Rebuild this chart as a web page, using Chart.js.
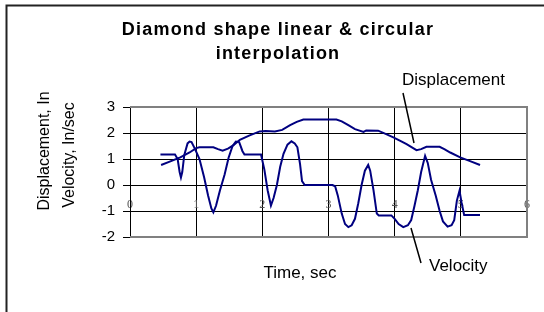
<!DOCTYPE html>
<html>
<head>
<meta charset="utf-8">
<script src="https://cdn.jsdelivr.net/npm/chart.js@4.4.1/dist/chart.umd.min.js"></script>
<style>
    body { margin: 0; background: #fff; }
</style>
</head>
<body>
<canvas id="lineChart" width="544" height="312"></canvas>
<script>
var titleLines = ["Diamond shape linear & circular", "interpolation"];
var xTitle = "Time, sec";
var yTitleLines = ["Displacement, In", "Velocity, In/sec"];
var seriesNames = ["Displacement", "Velocity"];

var xTicks = [0, 1, 2, 3, 4, 5, 6];
var yTicks = [-2, -1, 0, 1, 2, 3];

var dispTime = [0.47, 0.6, 0.76, 0.9, 1.0, 1.05, 1.26, 1.33, 1.4, 1.48, 1.56, 1.66, 1.8, 1.96, 2.05, 2.19,
    2.3, 2.42, 2.52, 2.62, 3.12, 3.2, 3.3, 3.4, 3.53, 3.57, 3.75, 3.88, 3.98, 4.1, 4.18, 4.33, 4.4,
    4.48, 4.68, 4.75, 4.84, 4.99, 5.14, 5.29];
var dispValue = [0.77, 0.9, 1.06, 1.25, 1.42, 1.45, 1.45, 1.38, 1.32, 1.4, 1.52, 1.74, 1.9, 2.06, 2.08, 2.06,
    2.12, 2.3, 2.43, 2.52, 2.52, 2.45, 2.3, 2.15, 2.04, 2.1, 2.09, 1.95, 1.83, 1.68, 1.57, 1.34, 1.38,
    1.47, 1.47, 1.38, 1.25, 1.06, 0.92, 0.77];

var velTime = [0.46, 0.68, 0.72, 0.75, 0.77, 0.79, 0.82, 0.87, 0.9, 0.93, 0.98, 1.05, 1.12, 1.18, 1.23, 1.26,
    1.3, 1.36, 1.43, 1.49, 1.55, 1.6, 1.65, 1.7, 1.73, 1.98, 2.03, 2.08, 2.13, 2.17, 2.22, 2.27, 2.32,
    2.38, 2.44, 2.49, 2.53, 2.57, 2.6, 2.64, 3.06, 3.1, 3.14, 3.2, 3.25, 3.3, 3.35, 3.4, 3.45, 3.5,
    3.55, 3.6, 3.63, 3.68, 3.73, 3.76, 3.95, 4.0, 4.06, 4.13, 4.2, 4.25, 4.3, 4.35, 4.4, 4.46, 4.5,
    4.55, 4.62, 4.68, 4.73, 4.8, 4.86, 4.9, 4.94, 4.98, 5.01, 5.05, 5.29];
var velValue = [1.17, 1.17, 1.0, 0.5, 0.29, 0.5, 1.15, 1.6, 1.67, 1.65, 1.4, 1.0, 0.3, -0.4, -0.9, -1.05,
    -0.8, -0.2, 0.4, 1.05, 1.5, 1.67, 1.65, 1.3, 1.17, 1.17, 0.6, -0.2, -0.79, -0.5, 0.0, 0.7, 1.2,
    1.55, 1.68, 1.6, 1.45, 0.8, 0.15, 0, 0, -0.05, -0.4, -1.1, -1.5, -1.62, -1.55, -1.3, -0.7, 0.0,
    0.55, 0.77, 0.55, -0.2, -1.1, -1.17, -1.17, -1.3, -1.5, -1.62, -1.55, -1.35, -0.8, -0.2, 0.5, 1.12, 0.85,
    0.2, -0.4, -1.0, -1.4, -1.6, -1.55, -1.35, -0.6, -0.22, -0.66, -1.15, -1.15];

function toPoints(xs, ys) {
    var pts = [];
    for (var i = 0; i < xs.length; i++) {
        pts.push({ x: xs[i], y: ys[i] });
    }
    return pts;
}

// gray frame round the plot area, drawn before the curves
var plotFrame = {
    id: 'plotFrame',
    beforeDatasetsDraw: function (chart) {
        var a = chart.chartArea;
        var ctx = chart.ctx;
        ctx.save();
        ctx.strokeStyle = '#808080';
        ctx.lineWidth = 2;
        ctx.beginPath();
        ctx.moveTo(a.left, a.top);
        ctx.lineTo(a.right, a.top);
        ctx.lineTo(a.right, a.bottom);
        ctx.lineTo(a.left, a.bottom);
        ctx.stroke();
        ctx.restore();
    }
};

// titles, callout labels and the outer frame
var decorations = {
    id: 'decorations',
    afterDraw: function (chart) {
        var ctx = chart.ctx;
        ctx.save();

        ctx.strokeStyle = '#222';
        ctx.lineWidth = 2;
        ctx.beginPath();
        ctx.moveTo(6.5, 312);
        ctx.lineTo(6.5, 5.5);
        ctx.lineTo(544, 5.5);
        ctx.stroke();

        ctx.fillStyle = '#000';
        ctx.textBaseline = 'alphabetic';
        ctx.textAlign = 'center';
        ctx.font = 'bold 18px "Liberation Sans", Arial, sans-serif';
        if ('letterSpacing' in ctx) ctx.letterSpacing = '1.2px';
        ctx.fillText(titleLines[0], 278, 35);
        ctx.fillText(titleLines[1], 278, 59);
        if ('letterSpacing' in ctx) ctx.letterSpacing = '0px';

        ctx.font = '17px "Liberation Sans", Arial, sans-serif';
        ctx.fillText(xTitle, 300, 278);

        ctx.textAlign = 'left';
        ctx.fillText(seriesNames[0], 402, 85);
        ctx.fillText(seriesNames[1], 429, 271);

        ctx.strokeStyle = '#000';
        ctx.lineWidth = 1.5;
        ctx.beginPath();
        ctx.moveTo(403, 93);
        ctx.lineTo(414, 143);
        ctx.moveTo(411, 228);
        ctx.lineTo(421, 263);
        ctx.stroke();

        ctx.font = '16px "Liberation Sans", Arial, sans-serif';
        ctx.textAlign = 'center';
        ctx.save();
        ctx.translate(49, 151);
        ctx.rotate(-Math.PI / 2);
        ctx.fillText(yTitleLines[0], 0, 0);
        ctx.restore();
        ctx.save();
        ctx.translate(74, 155);
        ctx.rotate(-Math.PI / 2);
        ctx.fillText(yTitleLines[1], 0, 0);
        ctx.restore();

        ctx.restore();
    }
};

var ctx = document.getElementById("lineChart").getContext('2d');
var lineChart = new Chart(ctx, {
    type: 'scatter',
    data: {
        datasets: [{
            label: seriesNames[0],
            data: toPoints(dispTime, dispValue),
            showLine: true,
            borderColor: '#000080',
            borderWidth: 2,
            pointRadius: 0,
            tension: 0
        }, {
            label: seriesNames[1],
            data: toPoints(velTime, velValue),
            showLine: true,
            borderColor: '#000080',
            borderWidth: 2,
            pointRadius: 0,
            tension: 0
        }]
    },
    options: {
        responsive: false,
        animation: false,
        layout: {
            padding: { left: 100, top: 107, right: 17, bottom: 75 }
        },
        plugins: {
            legend: { display: false },
            title: { display: false },
            tooltip: { enabled: false }
        },
        scales: {
            x: {
                type: 'linear',
                position: { y: 0 },
                min: xTicks[0],
                max: xTicks[xTicks.length - 1],
                afterBuildTicks: function (scale) {
                    scale.ticks = xTicks.map(function (v) { return { value: v }; });
                },
                grid: {
                    drawTicks: false,
                    color: '#000',
                    lineWidth: 1
                },
                border: { color: '#000', width: 1 },
                ticks: {
                    padding: 13,
                    color: '#555',
                    font: { family: '"Liberation Serif", "Times New Roman", serif', size: 12 }
                }
            },
            y: {
                type: 'linear',
                min: yTicks[0],
                max: yTicks[yTicks.length - 1],
                afterBuildTicks: function (scale) {
                    scale.ticks = yTicks.map(function (v) { return { value: v }; });
                },
                afterFit: function (scale) {
                    scale.width = 30;
                },
                grid: {
                    tickLength: 7,
                    tickColor: '#000',
                    color: '#000',
                    lineWidth: 1
                },
                border: { color: '#000', width: 1 },
                ticks: {
                    padding: 8,
                    color: '#000',
                    font: { family: '"Liberation Sans", Arial, sans-serif', size: 15 }
                }
            }
        }
    },
    plugins: [plotFrame, decorations]
});
</script>
</body>
</html>
